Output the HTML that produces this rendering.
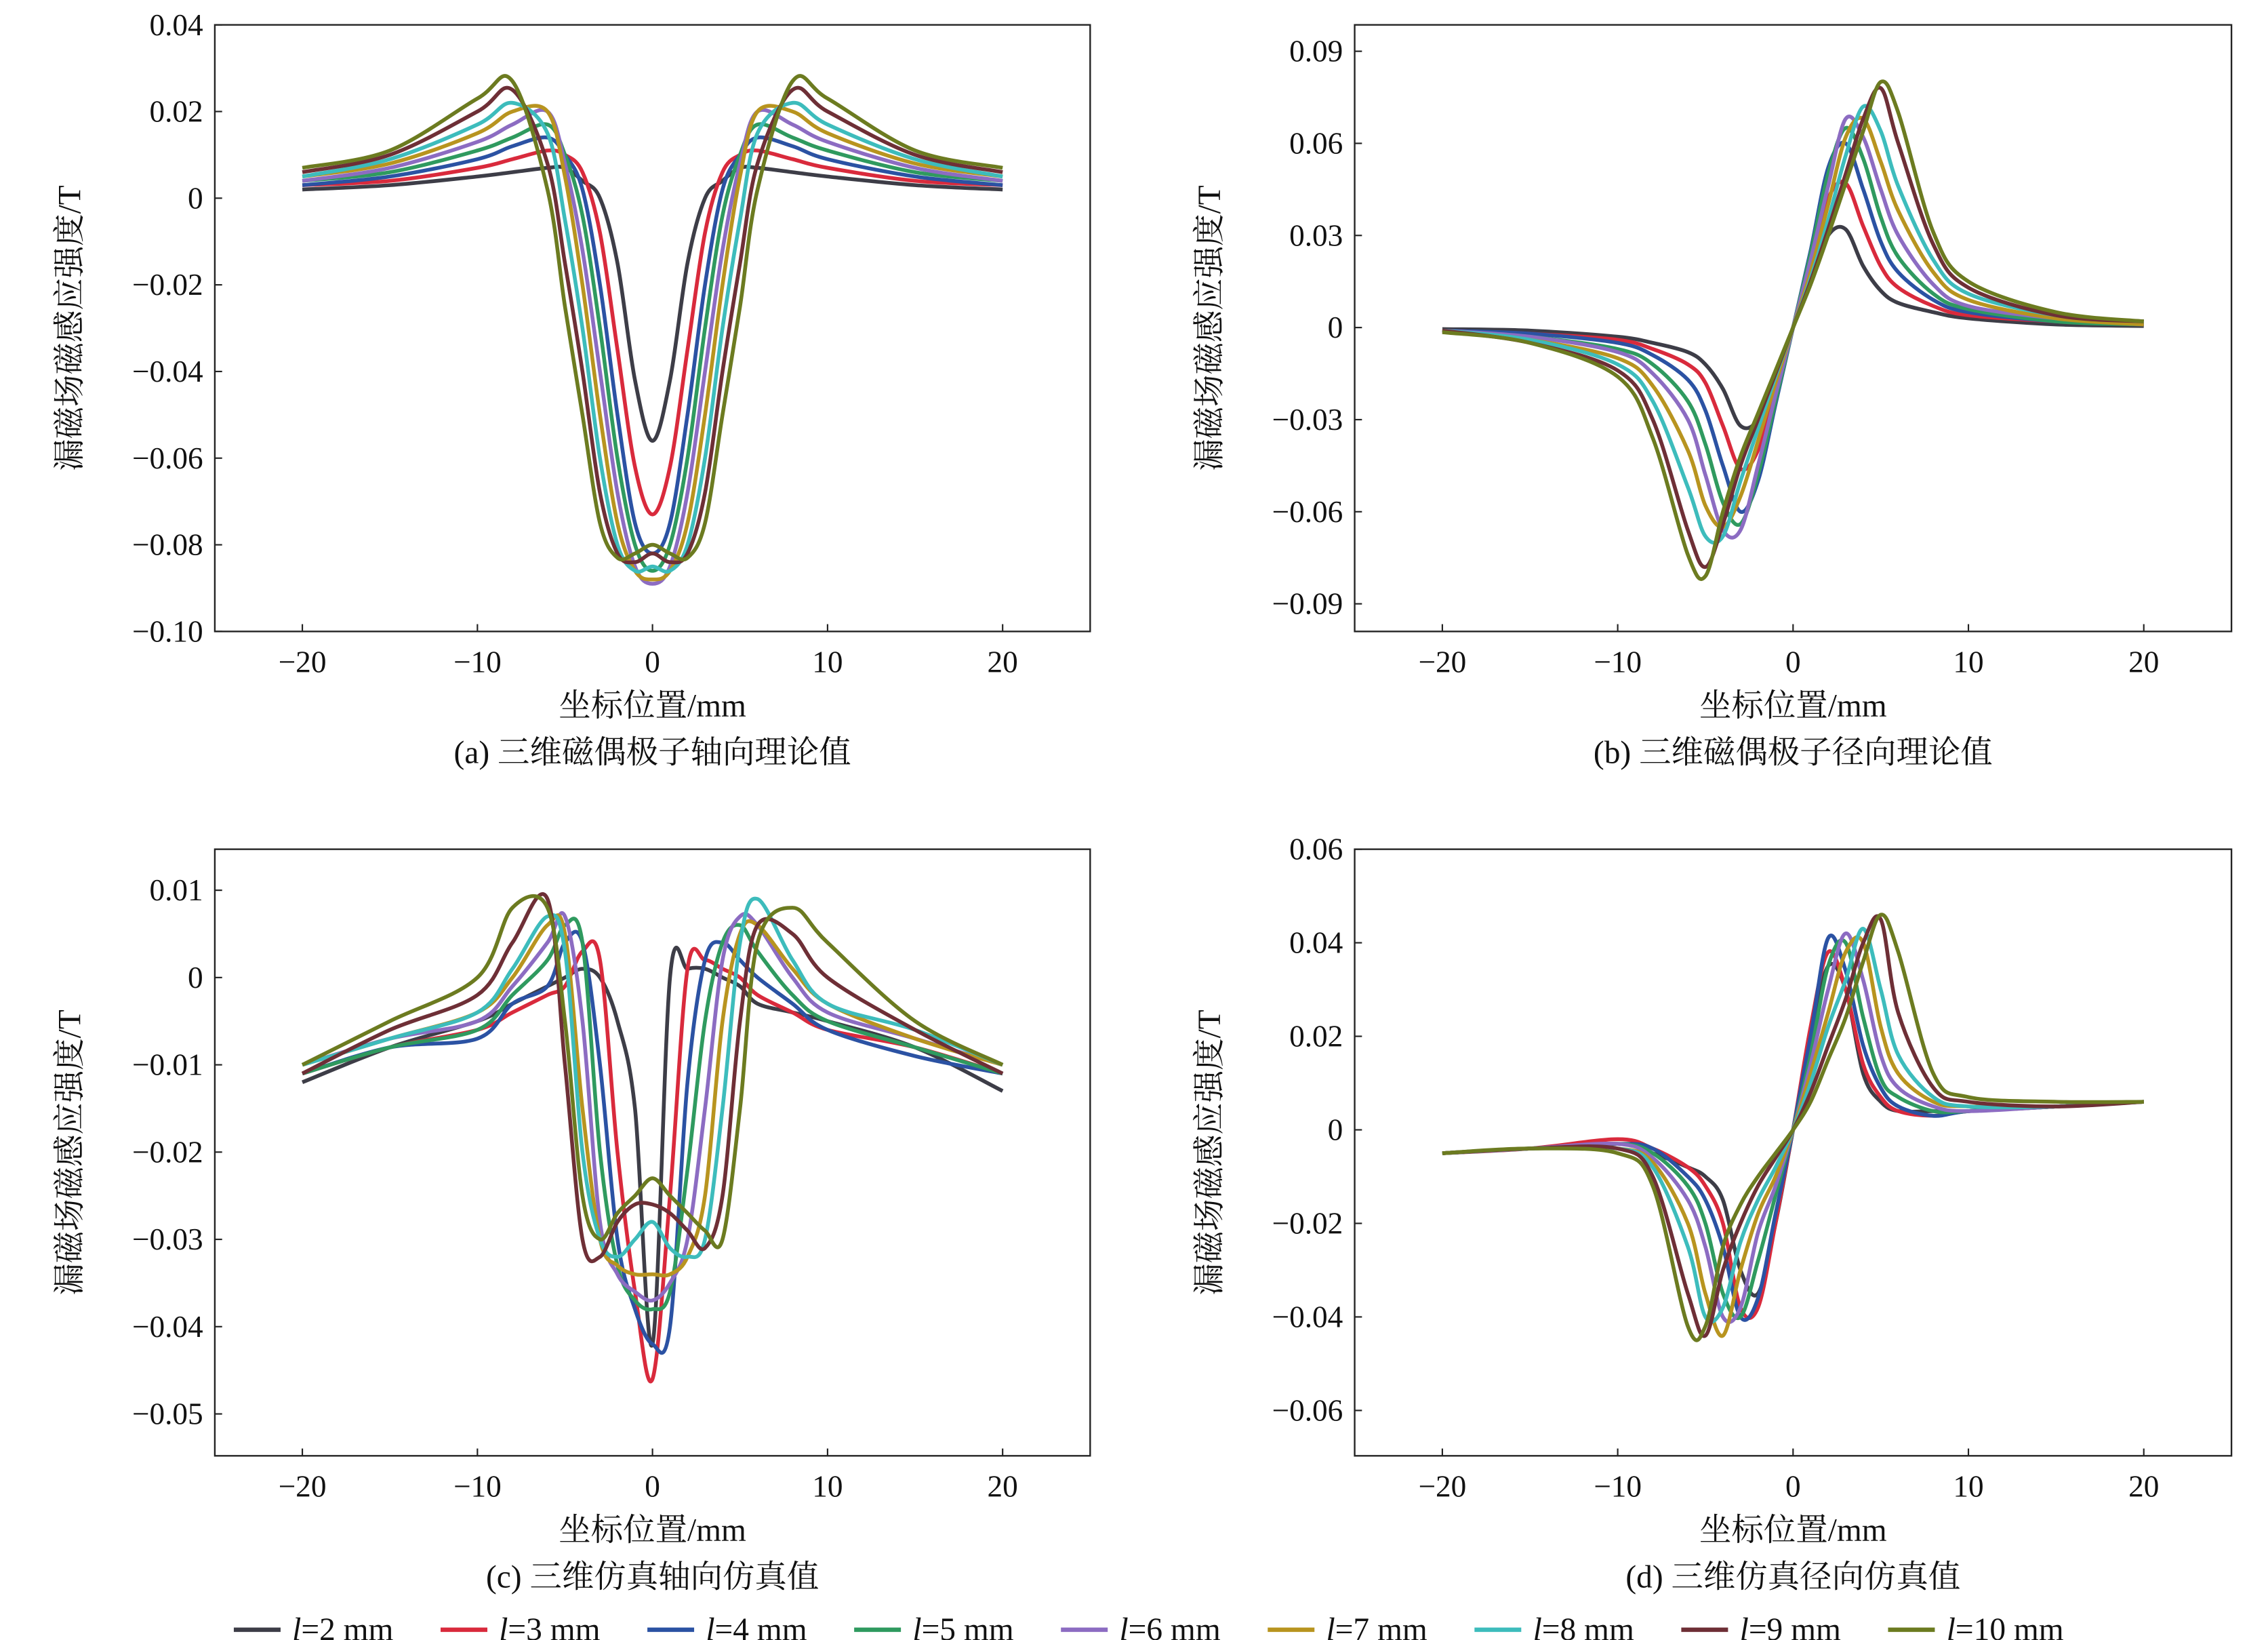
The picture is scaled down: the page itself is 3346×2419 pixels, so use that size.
<!DOCTYPE html>
<html><head><meta charset="utf-8">
<style>
html,body{margin:0;padding:0;background:#fff;}
svg{display:block;}
text{font-family:"Liberation Serif","Noto Serif CJK SC",serif;fill:#111;}
</style></head>
<body>
<svg id="fig" width="3346" height="2419" viewBox="0 0 1552 1122" xmlns="http://www.w3.org/2000/svg"></svg>
<script>
const xs = [-20,-15,-10,-8,-6,-5,-4,-3,-2,-1,0,1,2,3,4,5,6,8,10,15,20];
const labels = ['2','3','4','5','6','7','8','9','10'];
const colors = ['#3d3d47','#d92a3c','#2b52a3','#2f9a5f','#8c6cc2','#b8941f','#3dbcbc','#6e2f36','#6c7b20'];

const aL2 = [0.002,0.003,0.005,0.006,0.007,0.007,0.004,0.000,-0.015,-0.042,-0.056,-0.042,-0.015,0.000,0.004,0.007,0.007,0.006,0.005,0.003,0.002];
const aL3 = [0.003,0.004,0.007,0.009,0.011,0.010,0.006,-0.008,-0.035,-0.062,-0.073,-0.062,-0.035,-0.008,0.006,0.010,0.011,0.009,0.007,0.004,0.003];
const aL4 = [0.003,0.005,0.009,0.012,0.014,0.010,0.002,-0.020,-0.050,-0.075,-0.082,-0.075,-0.050,-0.020,0.002,0.010,0.014,0.012,0.009,0.005,0.003];
const aL5 = [0.004,0.006,0.011,0.014,0.017,0.010,-0.004,-0.030,-0.060,-0.080,-0.086,-0.080,-0.060,-0.030,-0.004,0.010,0.017,0.014,0.011,0.006,0.004];
const aL6 = [0.004,0.007,0.013,0.017,0.020,0.008,-0.012,-0.040,-0.068,-0.085,-0.089,-0.085,-0.068,-0.040,-0.012,0.008,0.020,0.017,0.013,0.007,0.004];
const aL7 = [0.005,0.008,0.015,0.020,0.020,0.005,-0.020,-0.050,-0.075,-0.086,-0.088,-0.086,-0.075,-0.050,-0.020,0.005,0.020,0.020,0.015,0.008,0.005];
const aL8 = [0.005,0.009,0.017,0.022,0.015,-0.005,-0.030,-0.060,-0.080,-0.086,-0.085,-0.086,-0.080,-0.060,-0.030,-0.005,0.015,0.022,0.017,0.009,0.005];
const aL9 = [0.006,0.010,0.020,0.025,0.008,-0.015,-0.040,-0.068,-0.082,-0.084,-0.082,-0.084,-0.082,-0.068,-0.040,-0.015,0.008,0.025,0.020,0.010,0.006];
const aL10 = [0.007,0.011,0.023,0.027,0.002,-0.025,-0.050,-0.075,-0.083,-0.082,-0.080,-0.082,-0.083,-0.075,-0.050,-0.025,0.002,0.027,0.023,0.011,0.007];

const bL2 = [-0.0005,-0.001,-0.003,-0.005,-0.008,-0.012,-0.020,-0.032,-0.030,-0.016,0,0.016,0.030,0.032,0.020,0.012,0.008,0.005,0.003,0.001,0.0005];
const bL3 = [-0.001,-0.002,-0.004,-0.007,-0.012,-0.018,-0.032,-0.046,-0.040,-0.020,0,0.020,0.042,0.047,0.033,0.020,0.013,0.007,0.004,0.002,0.001];
const bL4 = [-0.001,-0.002,-0.005,-0.009,-0.017,-0.027,-0.045,-0.060,-0.050,-0.025,0,0.025,0.052,0.060,0.045,0.028,0.018,0.009,0.005,0.002,0.001];
const bL5 = [-0.001,-0.003,-0.007,-0.012,-0.024,-0.038,-0.057,-0.064,-0.048,-0.024,0,0.024,0.050,0.065,0.055,0.036,0.023,0.011,0.006,0.002,0.001];
const bL6 = [-0.001,-0.003,-0.008,-0.015,-0.030,-0.048,-0.066,-0.066,-0.045,-0.022,0,0.022,0.046,0.068,0.062,0.045,0.030,0.014,0.007,0.003,0.001];
const bL7 = [-0.001,-0.004,-0.010,-0.019,-0.040,-0.058,-0.065,-0.055,-0.037,-0.018,0,0.018,0.040,0.062,0.068,0.054,0.038,0.018,0.009,0.003,0.001];
const bL8 = [-0.001,-0.004,-0.012,-0.024,-0.052,-0.068,-0.068,-0.050,-0.033,-0.016,0,0.016,0.035,0.056,0.072,0.064,0.046,0.022,0.011,0.004,0.002];
const bL9 = [-0.001,-0.005,-0.014,-0.030,-0.066,-0.078,-0.064,-0.045,-0.030,-0.015,0,0.015,0.032,0.050,0.068,0.078,0.060,0.027,0.013,0.004,0.002];
const bL10 = [-0.0015,-0.005,-0.016,-0.036,-0.074,-0.081,-0.060,-0.042,-0.028,-0.014,0,0.014,0.030,0.047,0.064,0.080,0.070,0.031,0.015,0.005,0.002];

const cL2 = [-0.012,-0.008,-0.005,-0.003,-0.001,0,0.001,0.0,-0.005,-0.015,-0.042,0.000,0.001,0.001,0.0,-0.001,-0.003,-0.004,-0.005,-0.008,-0.013];
const cL3 = [-0.011,-0.008,-0.006,-0.004,-0.002,-0.001,0.003,0.002,-0.020,-0.036,-0.046,-0.025,0.001,0.002,0.001,0.000,-0.002,-0.004,-0.006,-0.008,-0.011];
const cL4 = [-0.011,-0.008,-0.007,-0.003,-0.001,0.004,0.004,-0.010,-0.030,-0.038,-0.042,-0.040,-0.012,0.002,0.004,0.002,0.000,-0.003,-0.006,-0.009,-0.011];
const cL5 = [-0.011,-0.008,-0.006,-0.002,0.002,0.006,0.004,-0.020,-0.033,-0.037,-0.038,-0.036,-0.022,-0.005,0.004,0.006,0.003,-0.002,-0.005,-0.008,-0.011];
const cL6 = [-0.010,-0.007,-0.005,-0.001,0.004,0.007,-0.005,-0.028,-0.034,-0.036,-0.037,-0.035,-0.030,-0.015,0.002,0.007,0.006,0.000,-0.004,-0.007,-0.010];
const cL7 = [-0.010,-0.007,-0.004,0.000,0.006,0.005,-0.015,-0.030,-0.033,-0.034,-0.034,-0.034,-0.032,-0.025,-0.005,0.005,0.006,0.001,-0.003,-0.007,-0.010];
const cL8 = [-0.010,-0.007,-0.004,0.001,0.007,0.003,-0.020,-0.030,-0.032,-0.030,-0.028,-0.031,-0.032,-0.030,-0.015,0.004,0.009,0.002,-0.003,-0.006,-0.010];
const cL9 = [-0.011,-0.006,-0.002,0.004,0.009,-0.010,-0.030,-0.032,-0.028,-0.026,-0.026,-0.027,-0.029,-0.031,-0.025,-0.005,0.006,0.005,0.000,-0.006,-0.011];
const cL10 = [-0.010,-0.005,0.000,0.008,0.008,-0.005,-0.025,-0.030,-0.027,-0.025,-0.023,-0.025,-0.027,-0.029,-0.030,-0.015,0.004,0.008,0.004,-0.005,-0.010];

const dL2 = [-0.005,-0.004,-0.003,-0.005,-0.008,-0.010,-0.015,-0.030,-0.035,-0.020,0,0.020,0.035,0.030,0.012,0.006,0.004,0.004,0.004,0.005,0.006];
const dL3 = [-0.005,-0.004,-0.002,-0.004,-0.008,-0.012,-0.020,-0.038,-0.038,-0.020,0,0.022,0.038,0.030,0.014,0.007,0.004,0.003,0.004,0.005,0.006];
const dL4 = [-0.005,-0.004,-0.003,-0.004,-0.010,-0.015,-0.025,-0.040,-0.036,-0.018,0,0.020,0.041,0.034,0.018,0.009,0.005,0.003,0.004,0.005,0.006];
const dL5 = [-0.005,-0.004,-0.003,-0.005,-0.012,-0.020,-0.035,-0.040,-0.028,-0.014,0,0.016,0.035,0.040,0.024,0.011,0.007,0.004,0.004,0.005,0.006];
const dL6 = [-0.005,-0.004,-0.003,-0.006,-0.015,-0.025,-0.040,-0.038,-0.022,-0.012,0,0.014,0.030,0.042,0.032,0.016,0.009,0.005,0.004,0.005,0.006];
const dL7 = [-0.005,-0.004,-0.004,-0.007,-0.020,-0.035,-0.044,-0.030,-0.018,-0.010,0,0.012,0.025,0.038,0.040,0.022,0.012,0.006,0.005,0.005,0.006];
const dL8 = [-0.005,-0.004,-0.004,-0.008,-0.025,-0.040,-0.038,-0.024,-0.015,-0.008,0,0.010,0.022,0.032,0.043,0.030,0.016,0.007,0.005,0.005,0.006];
const dL9 = [-0.005,-0.004,-0.004,-0.010,-0.035,-0.044,-0.030,-0.020,-0.012,-0.006,0,0.008,0.018,0.028,0.040,0.045,0.025,0.009,0.006,0.005,0.006];
const dL10 = [-0.005,-0.004,-0.005,-0.012,-0.042,-0.042,-0.025,-0.016,-0.010,-0.005,0,0.006,0.015,0.024,0.036,0.046,0.038,0.012,0.007,0.006,0.006];

const aTicks = [0.04,0.02,0,-0.02,-0.04,-0.06,-0.08,-0.10];
const aTickLabels = ['0.04','0.02','0','−0.02','−0.04','−0.06','−0.08','−0.10'];
const bTicks = [0.09,0.06,0.03,0,-0.03,-0.06,-0.09];
const bTickLabels = ['0.09','0.06','0.03','0','−0.03','−0.06','−0.09'];
const cTicks = [0.01,0,-0.01,-0.02,-0.03,-0.04,-0.05];
const cTickLabels = ['0.01','0','−0.01','−0.02','−0.03','−0.04','−0.05'];
const dTicks = [0.06,0.04,0.02,0,-0.02,-0.04,-0.06];
const dTickLabels = ['0.06','0.04','0.02','0','−0.02','−0.04','−0.06'];
const xTicks = [-20,-10,0,10,20];
const xTickLabels = ['−20','−10','0','10','20'];

const NS = 'http://www.w3.org/2000/svg';
const svg = document.getElementById('fig');
function mk(tag, attrs, parent){
  const e = document.createElementNS(NS, tag);
  for (const k in attrs) e.setAttribute(k, attrs[k]);
  (parent||svg).appendChild(e);
  return e;
}
function spline(pts){
  let d = 'M' + pts[0][0].toFixed(2) + ',' + pts[0][1].toFixed(2);
  for (let i=0;i<pts.length-1;i++){
    const p0 = pts[Math.max(0,i-1)], p1 = pts[i], p2 = pts[i+1], p3 = pts[Math.min(pts.length-1,i+2)];
    const c1x = p1[0] + (p2[0]-p0[0])/6, c1y = p1[1] + (p2[1]-p0[1])/6;
    const c2x = p2[0] - (p3[0]-p1[0])/6, c2y = p2[1] - (p3[1]-p1[1])/6;
    d += ' C' + c1x.toFixed(2)+','+c1y.toFixed(2)+' '+c2x.toFixed(2)+','+c2y.toFixed(2)+' '+p2[0].toFixed(2)+','+p2[1].toFixed(2);
  }
  return d;
}

function panel(cfg){
  const g = mk('g', {});
  
  
  const {x0,x1,y0,y1,ymin,ymax} = cfg;
  const sx = v => x0 + (v - (-25)) / 50 * (x1 - x0);
  const sy = v => y1 - (v - ymin) / (ymax - ymin) * (y1 - y0);
  const box = mk('rect', {x:x0, y:y0, width:x1-x0, height:y1-y0, fill:'none', stroke:'#222', 'stroke-width':1.1}, g);
  
  
  cfg.yt.forEach((v,i)=>{
    const y = sy(v);
    mk('line', {x1:x0, x2:x0+5, y1:y, y2:y, stroke:'#222', 'stroke-width':1}, g);
    const t = mk('text', {x:x0-8, y:y+7, 'text-anchor':'end', 'font-size':21}, g);
    t.textContent = cfg.ytl[i];
    
    
  });
  xTicks.forEach((v,i)=>{
    const x = sx(v);
    mk('line', {x1:x, x2:x, y1:y1, y2:y1-5, stroke:'#222', 'stroke-width':1}, g);
    const t = mk('text', {x:x, y:y1+28, 'text-anchor':'middle', 'font-size':21}, g);
    t.textContent = xTickLabels[i];
    
    
  });
  cfg.series.forEach((arr,si)=>{
    const pts = xs.map((xv,i)=>[sx(xv), sy(arr[i])]);
    const p = mk('path', {d:spline(pts), fill:'none', stroke:colors[si], 'stroke-width':2.6, 'stroke-linejoin':'round'}, g);
    
    
  });
  const cx = (x0+x1)/2;
  const xt = mk('text', {x:cx, y:y1+58, 'text-anchor':'middle', 'font-size':22}, g);
  xt.textContent = '坐标位置/mm';
  
  
  const cap = mk('text', {x:cx, y:y1+90, 'text-anchor':'middle', 'font-size':22}, g);
  cap.textContent = cfg.caption;
  
  
  const ty = (y0+y1)/2, tx = x0 - 92;
  const yt = mk('text', {x:tx, y:ty, 'text-anchor':'middle', 'font-size':22, transform:'rotate(-90 '+tx+' '+ty+')'}, g);
  yt.textContent = '漏磁场磁感应强度/T';
  
  
}

panel({name:'panel-a', x0:147, x1:746, y0:17, y1:432, ymin:-0.10, ymax:0.04, yt:aTicks, ytl:aTickLabels,
  series:[aL2,aL3,aL4,aL5,aL6,aL7,aL8,aL9,aL10], caption:'(a) 三维磁偶极子轴向理论值'});
panel({name:'panel-b', x0:927, x1:1527, y0:17, y1:432, ymin:-0.099, ymax:0.0986, yt:bTicks, ytl:bTickLabels,
  series:[bL2,bL3,bL4,bL5,bL6,bL7,bL8,bL9,bL10], caption:'(b) 三维磁偶极子径向理论值'});
panel({name:'panel-c', x0:147, x1:746, y0:581, y1:996, ymin:-0.0548, ymax:0.0147, yt:cTicks, ytl:cTickLabels,
  series:[cL2,cL3,cL4,cL5,cL6,cL7,cL8,cL9,cL10], caption:'(c) 三维仿真轴向仿真值'});
panel({name:'panel-d', x0:927, x1:1527, y0:581, y1:996, ymin:-0.0697, ymax:0.06, yt:dTicks, ytl:dTickLabels,
  series:[dL2,dL3,dL4,dL5,dL6,dL7,dL8,dL9,dL10], caption:'(d) 三维仿真径向仿真值'});

const lg = mk('g', {});


labels.forEach((lab,i)=>{
  const x = 160 + i*141.5;
  const e = mk('g', {}, lg);
  
  
  mk('line', {x1:x, x2:x+32, y1:1115, y2:1115, stroke:colors[i], 'stroke-width':3}, e);
  const t = mk('text', {x:x+40, y:1122-0, 'font-size':22}, e);
  t.innerHTML = '<tspan font-style="italic">l</tspan>=' + lab + ' mm';
});
</script>
</body></html>
